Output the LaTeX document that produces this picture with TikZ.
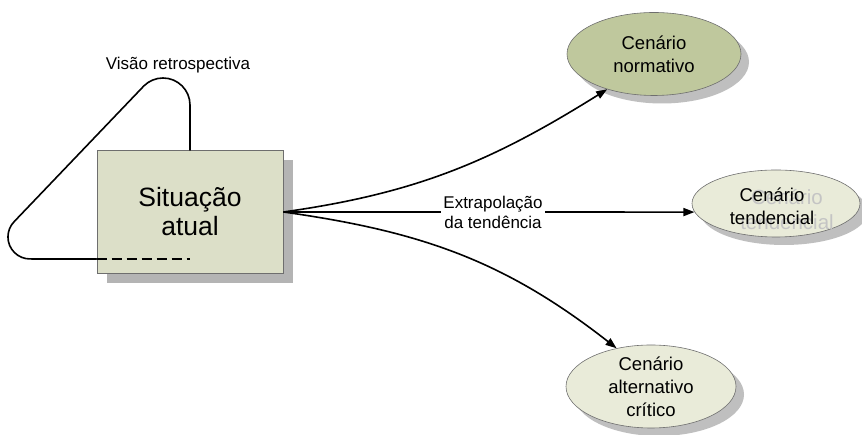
\documentclass[tikz,border=0pt]{standalone}
\usepackage{fontspec}
\setmainfont{Liberation Sans}
\usetikzlibrary{shapes.geometric,arrows.meta,shadows}

\definecolor{boxfill}{HTML}{DCDFC8}
\definecolor{normfill}{HTML}{BFC89D}
\definecolor{scenfill}{HTML}{E9EBD9}
\definecolor{shadowgray}{HTML}{B4B4B4}
\definecolor{edgegray}{HTML}{6E6E6E}
\definecolor{ghostgray}{HTML}{C4C4C4}

\begin{document}
\begin{tikzpicture}[x=1pt,y=1pt,
  situation/.style={draw=edgegray, line width=0.8pt, fill=boxfill,
    minimum width=186pt, minimum height=123pt, inner sep=0pt,
    align=center, font=\fontsize{26.5}{29}\selectfont,
    drop shadow={shadow xshift=10pt, shadow yshift=-10pt, fill=shadowgray, opacity=1}},
  scenario/.style={ellipse, draw=edgegray, line width=0.6pt, inner sep=0pt,
    drop shadow={shadow xshift=8pt, shadow yshift=-8pt, fill=shadowgray, opacity=0.85}},
  scentext/.style={align=center, inner sep=0pt, font=\fontsize{18.5}{23}\selectfont},
  link/.style={line width=1.6pt, -{Triangle[length=11pt,width=8pt]}},
  loopline/.style={line width=1.6pt, line cap=round},
]
\useasboundingbox (0,0) rectangle (862,435);

% current situation box
\node[situation] (sit) at (190,223) {Situação\\atual};

% retrospective loop leaving the top of the box and returning under it
\draw[loopline] (sit.north) -- (190,330)
  arc[start angle=0, end angle=135, radius=27pt] -- (14.4,213.6)
  arc[start angle=135, end angle=270, radius=22pt] -- (sit.west |- 0,176);
\draw[loopline, line cap=butt, dash pattern=on 10pt off 5pt] (sit.west |- 0,176) -- (190,176);
\node[font=\fontsize{17}{19}\selectfont] (retro) at (178,370) {Visão retrospectiva};

% scenarios
\node[scenario, fill=normfill, minimum width=174pt, minimum height=83pt] (norm) at (654,381) {};
\node[scentext] (normtxt) at (norm.center) {Cenário\\normativo};

\node[scenario, fill=scenfill, minimum width=168pt, minimum height=67pt] (tend) at (776,231.5) {};
\node[scentext, text=ghostgray, font=\fontsize{20.5}{25}\selectfont] (tendghost) at (787,225) {Cenário\\tendencial};
\node[scentext] (tendtxt) at (772,229) {Cenário\\tendencial};

\node[scenario, fill=scenfill, minimum width=170pt, minimum height=83pt] (alt) at (651,48.5) {};
\node[scentext] (alttxt) at (alt.center) {Cenário\\alternativo\\crítico};

% connectors from the current situation
\draw[link] (sit.east) to[out=8, in=212] (norm.217);
\draw[link] (sit.east) -- (tend.186)
  node[pos=0.51, fill=white, inner sep=2pt, align=center,
       font=\fontsize{17}{20}\selectfont] (extrap) {Extrapolação\\da tendência};
\draw[link] (sit.east) to[out=-8, in=142] (alt.132);
\end{tikzpicture}
\end{document}
